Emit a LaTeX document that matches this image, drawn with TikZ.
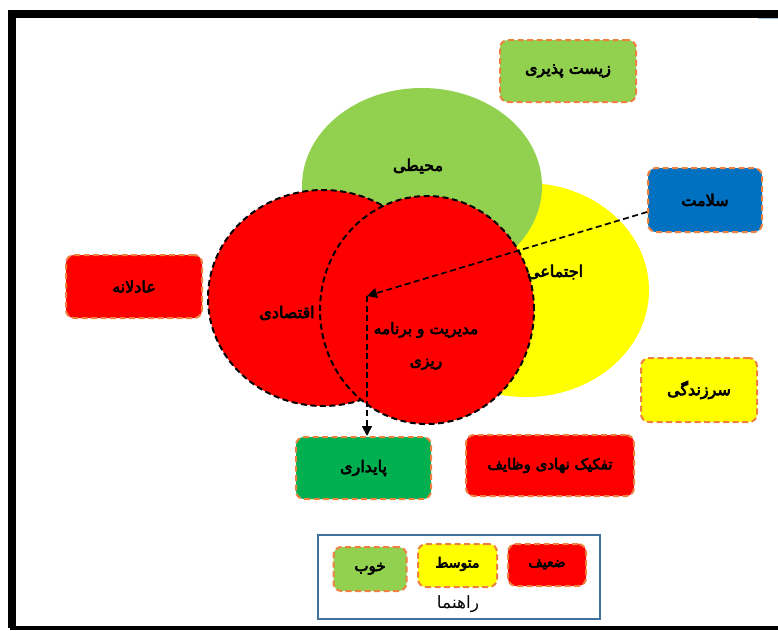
\documentclass[tikz,border=0pt]{standalone}
\usepackage{fontspec}
\usetikzlibrary{shapes.geometric,arrows.meta,calc}
\TeXXeTstate=1
\newfontfamily\fa[Script=Arabic]{DejaVu Sans}
\newfontfamily\fab[Script=Arabic,FakeBold=4]{DejaVu Sans}
\newcommand\ptxt[1]{\beginR #1\endR}
\definecolor{cred}{HTML}{FF0000}
\definecolor{cyel}{HTML}{FFFF00}
\definecolor{clgreen}{HTML}{92D050}
\definecolor{cdgreen}{HTML}{00B050}
\definecolor{cblue}{HTML}{0070C0}
\definecolor{corange}{HTML}{EE8140}
\definecolor{clegend}{HTML}{41719C}
\definecolor{cthin}{HTML}{9DC3E6}
\tikzset{
  boxnode/.style={draw=corange, line width=2pt, dash pattern=on 6pt off 3.5pt, rounded corners=8pt, minimum width=#1, font=\fab\fontsize{16}{18}\selectfont, inner sep=0pt},
  legbox/.style={boxnode=#1, text height=4pt, text depth=0pt},
  blob/.style={ellipse, inner sep=0pt},
  redblob/.style={blob, fill=cred, draw=black, line width=2pt, dash pattern=on 6pt off 3.5pt},
  lbl/.style={font=\fab\fontsize{16}{32}\selectfont, align=center},
  conn/.style={draw=black, line width=1.7pt, dash pattern=on 6pt off 3.5pt, -{Triangle[length=10pt,width=10pt]}}
}
\begin{document}
\begin{tikzpicture}[x=1pt,y=-1pt]
\useasboundingbox (0,0) rectangle (778,630);
\fill[white] (0,0) rectangle (778,630);
% frame
\draw[line width=8pt] (778,13.5) -- (12,13.5) -- (12,628);
\draw[line width=4.5pt] (10,627.8) -- (778,627.8);
\draw[cthin, line width=1.2pt] (758,18.5) -- (778,18.5);
% blobs
\node[blob, fill=cyel, minimum width=246pt, minimum height=214pt] (soc) at (526,290) {};
\node[blob, fill=clgreen, minimum width=240pt, minimum height=196pt] (env) at (422,186) {};
\node[redblob, minimum width=230pt, minimum height=216pt] (eco) at (323,298) {};
\node[redblob, minimum width=214pt, minimum height=228pt] (mgmt) at (427,310) {};
\node[lbl] (envl) at (418,166) {\ptxt{محیطی}};
\node[lbl] (socl) at (555,272) {\ptxt{اجتماعی}};
\node[lbl] (ecol) at (287,313) {\ptxt{اقتصادی}};
\node[lbl, font=\fab\fontsize{15.5}{32}\selectfont] (mgmtl) at (426,346) {\ptxt{مدیریت و برنامه}\\\ptxt{ریزی}};
% boxes
\node[boxnode=136pt, fill=clgreen, minimum height=62pt] (zist) at (568,71) {\ptxt{زیست پذیری}};
\node[boxnode=114pt, fill=cblue, minimum height=64pt] (salamat) at (705,200) {\ptxt{سلامت}};
\node[boxnode=136pt, fill=cred, minimum height=63pt] (adel) at (134,286.5) {\ptxt{عادلانه}};
\node[boxnode=116pt, fill=cyel, minimum height=64pt] (sarz) at (699,390) {\ptxt{سرزندگی}};
\node[boxnode=135pt, fill=cdgreen, minimum height=62pt] (pay) at (363.5,468) {\ptxt{پایداری}};
\node[boxnode=168pt, fill=cred, minimum height=61pt, font=\fab\fontsize{15}{18}\selectfont] (tafk) at (550,465.5) {\ptxt{تفکیک نهادی وظایف}};
% connectors
\coordinate (bend) at (367,296);
\draw[conn] ($(salamat.west)+(0,12)$) -- (bend);
\draw[conn] (bend) -- (pay.north -| bend);
% legend
\node[draw=clegend, line width=1.3pt, minimum width=282pt, minimum height=84pt, inner sep=0pt] (legend) at (459,577) {};
\node[legbox=73pt, fill=clgreen, minimum height=44pt, font=\fab\fontsize{15}{16}\selectfont] (good) at (370,569) {\ptxt{خوب}};
\node[legbox=79pt, fill=cyel, minimum height=43pt, font=\fab\fontsize{14}{16}\selectfont] (mid) at (457.5,565.5) {\ptxt{متوسط}};
\node[legbox=78pt, fill=cred, minimum height=42pt, font=\fab\fontsize{14}{16}\selectfont] (weak) at (547,565) {\ptxt{ضعیف}};
\node[font=\fa\fontsize{17}{18}\selectfont] (guide) at (458,604) {\ptxt{راهنما}};
\end{tikzpicture}
\end{document}
